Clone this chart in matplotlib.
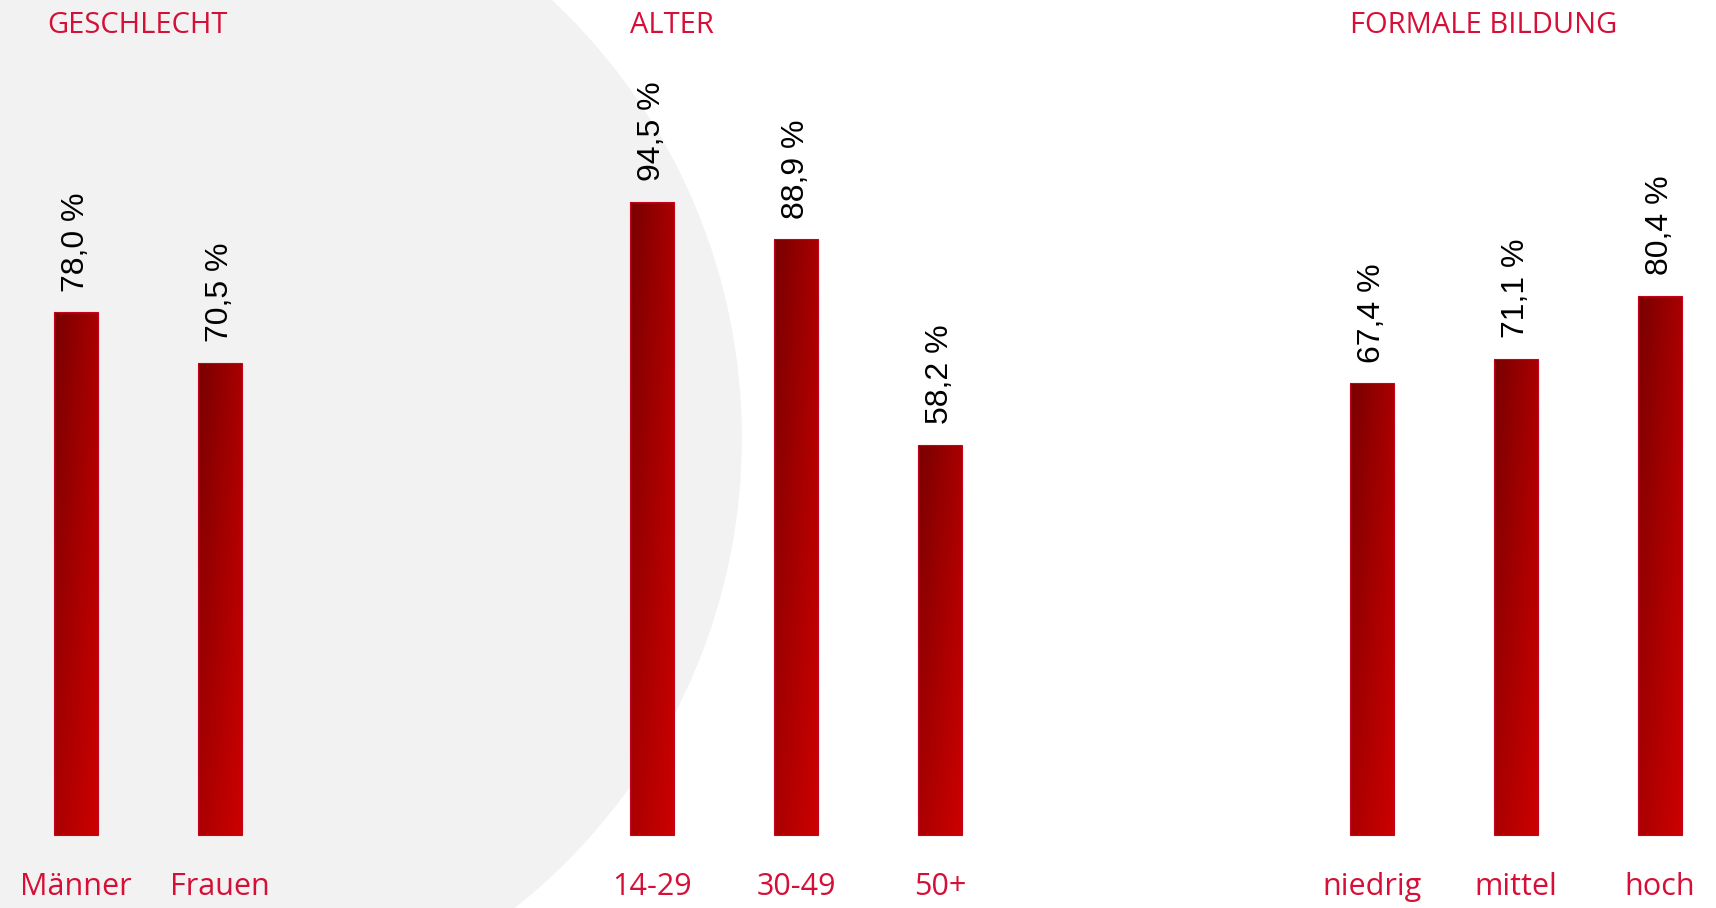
import numpy as np
import matplotlib
matplotlib.use("Agg")
import matplotlib.pyplot as plt
from matplotlib.patches import Ellipse

# Gruppen und Werte (in %)
gruppen = ["GESCHLECHT", "ALTER", "FORMALE BILDUNG"]
kategorien = [["Männer", "Frauen"], ["14-29", "30-49", "50+"], ["niedrig", "mittel", "hoch"]]
werte = [[78.0, 70.5], [94.5, 88.9, 58.2], [67.4, 71.1, 80.4]]

ROT = "#d50f37"
GRAU = "#f2f2f2"


def gradient_bar(ax, bar):
    """Fuellt einen Balken mit einem Verlauf dunkelrot -> rot."""
    x0, y0 = bar.get_x(), bar.get_y()
    w, h = bar.get_width(), bar.get_height()
    u = np.linspace(0, 1, 64)
    t = np.linspace(0, 1, 256)[:, None]
    # Ecken: oben links / oben rechts / unten links / unten rechts
    ol = np.array([0x78, 0x00, 0x00]) / 255
    orr = np.array([0xa8, 0x00, 0x00]) / 255
    ul = np.array([0xaa, 0x00, 0x00]) / 255
    ur = np.array([0xcc, 0x00, 0x00]) / 255
    oben = ol[None, None, :] * (1 - u)[None, :, None] + orr[None, None, :] * u[None, :, None]
    unten = ul[None, None, :] * (1 - u)[None, :, None] + ur[None, None, :] * u[None, :, None]
    img = oben * (1 - t[..., None]) + unten * t[..., None]
    im = ax.imshow(img, extent=(x0, x0 + w, y0, y0 + h), aspect="auto",
                   origin="upper", zorder=3, interpolation="bilinear")
    im.set_clip_path(bar)


fig = plt.figure(figsize=(17.16, 9.08), dpi=100)
ax = fig.add_axes([0, 0, 1, 1])
ax.set_xlim(-0.528, 11.389)
ax.set_ylim(-10.9, 124.63)
ax.axis("off")

# grauer Kreis im Hintergrund
ax.add_patch(Ellipse((0.458, 59.25), 8.333, 179.1, facecolor=GRAU,
                     edgecolor="none", zorder=0))

breite = 0.30
start = 0
for gruppe, kats, vals in zip(gruppen, kategorien, werte):
    pos = np.arange(len(kats)) + start
    bars = ax.bar(pos, vals, width=breite, color="none",
                  edgecolor="#c8001e", linewidth=0.8, zorder=4)
    for bar in bars:
        gradient_bar(ax, bar)
    for x, v, k in zip(pos, vals, kats):
        ax.annotate(f"{v:.1f}".replace(".", ",") + " %", (x, v),
                    xytext=(0, 15), textcoords="offset points",
                    rotation=90, ha="center", va="bottom",
                    fontsize=23, family="Liberation Sans", color="black")
        ax.annotate(k, (x, 0), xytext=(0, -43), textcoords="offset points",
                    ha="center", va="baseline", fontsize=22,
                    family="Open Sans", color=ROT)
    ax.text(pos[0] - breite / 2 - (0.05 if start == 0 else 0), 1 - 33 / 908,
            gruppe, transform=ax.get_xaxis_transform(), ha="left",
            va="baseline", fontsize=21, family="Open Sans", color=ROT)
    start += len(kats) + 2

fig.savefig("out.png", dpi=100, facecolor="white")
